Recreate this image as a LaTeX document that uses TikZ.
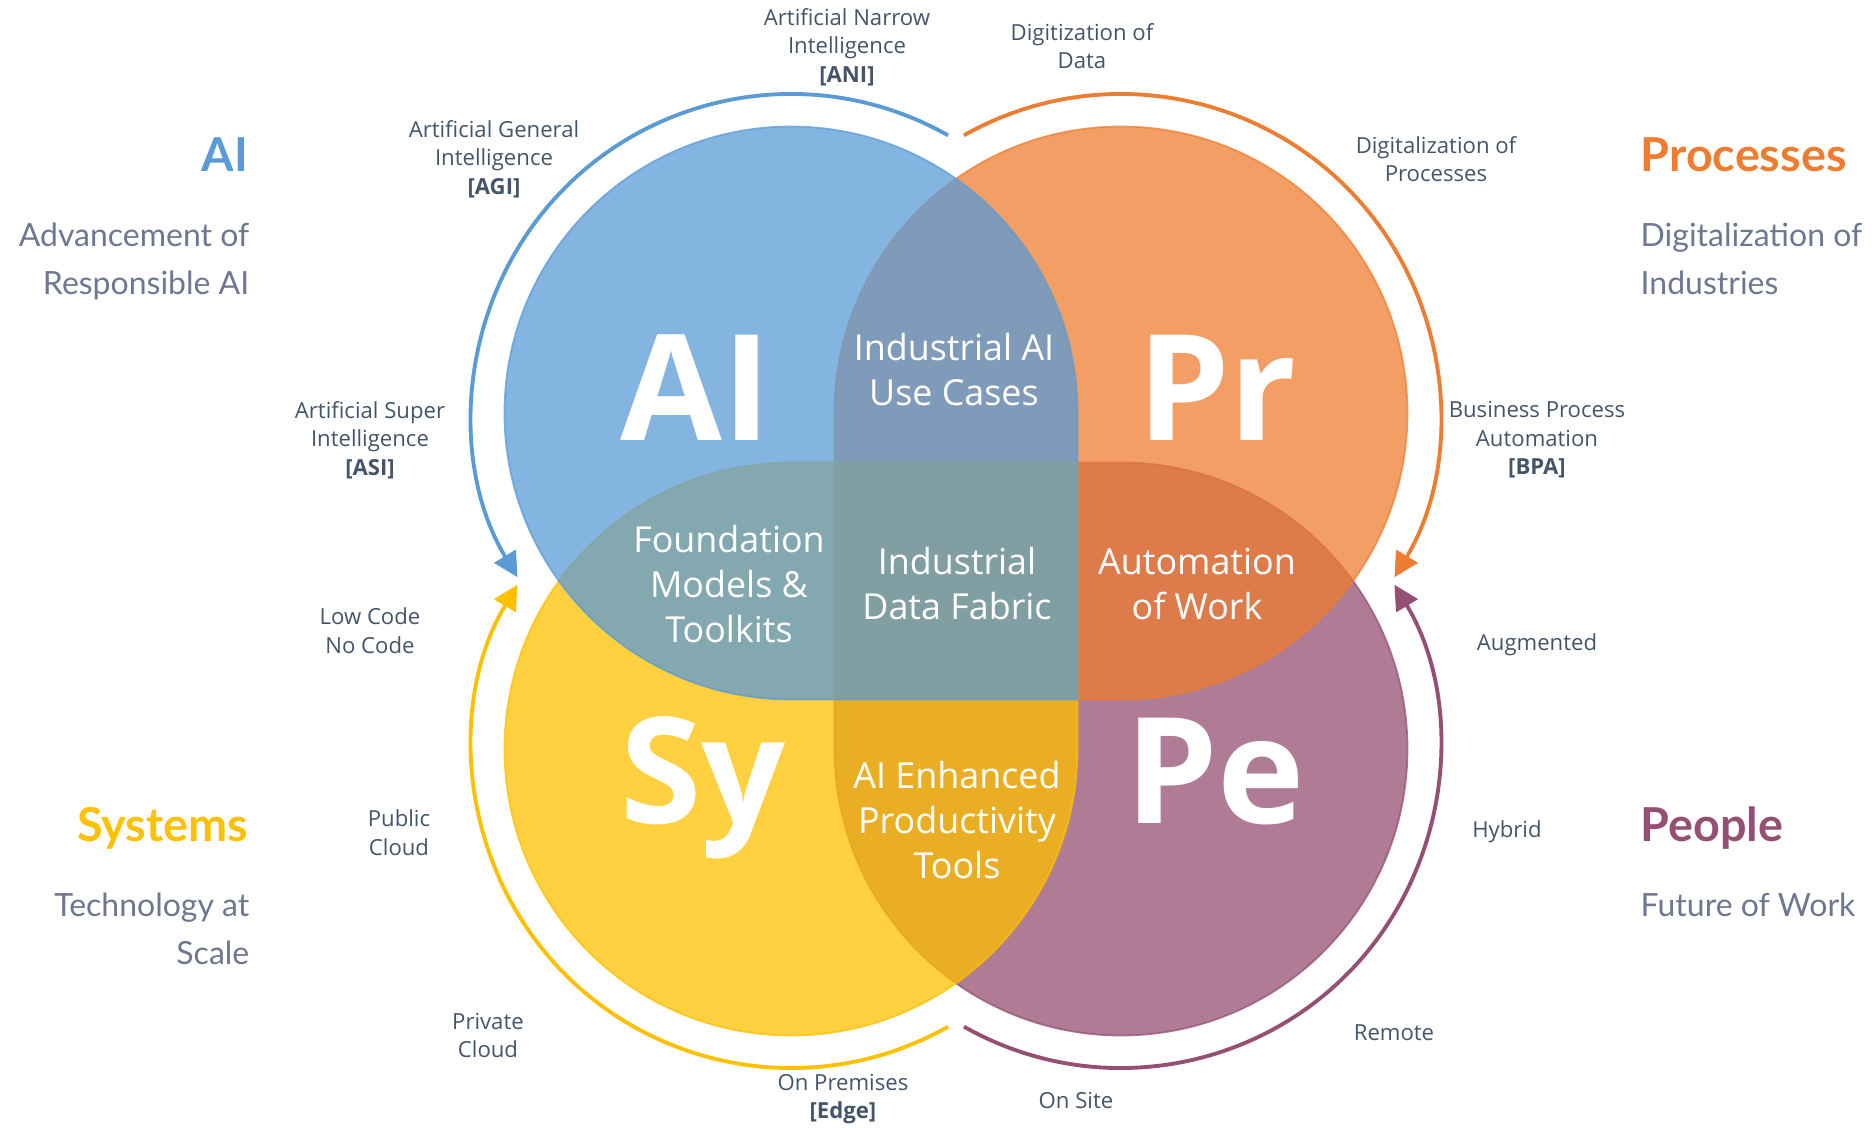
\documentclass[tikz,border=0pt]{standalone}
\usepackage{fontspec}
\setmainfont{Open Sans}
\newfontfamily\sidefont{Lato}
\usepackage{xcolor}
\usetikzlibrary{arrows.meta}

\definecolor{aiblue}{HTML}{5B9BD5}
\definecolor{prorange}{HTML}{ED7D31}
\definecolor{syyellow}{HTML}{FFC000}
\definecolor{pepurple}{HTML}{954F72}
\definecolor{labelgray}{HTML}{44546A}
\definecolor{sidegray}{HTML}{6E7691}

\begin{document}
\begin{tikzpicture}[
    venn/.style={line width=0.5pt, fill opacity=0.75, draw opacity=0.75},
    ring/.style={line width=1.1pt, -{Triangle[length=7pt,width=7pt]}},
    lbl/.style={labelgray, align=center, inner sep=0pt, font=\fontsize{6.3}{8.1}\selectfont},
    mid/.style={white, align=center, inner sep=0pt, font=\fontsize{10.2}{12.8}\selectfont},
    big/.style={white, inner sep=0pt, anchor=base, font=\fontsize{42}{42}\selectfont\bfseries},
    sidetitle/.style={inner sep=0pt, font=\sidefont\fontsize{13.3}{16}\selectfont\bfseries},
    sidetext/.style={sidegray, inner sep=0pt, font=\sidefont\fontsize{9.1}{13.7}\selectfont},
]
    \useasboundingbox (-9.56,-5.47) rectangle (9.19,5.81);

    % Centres of the four shapes
    \coordinate (ai) at (-1.65, 1.68);
    \coordinate (pr) at (1.65, 1.68);
    \coordinate (sy) at (-1.65, -1.68);
    \coordinate (pe) at (1.65, -1.68);

    % Draw the four shapes: a circle with its inner quarter squared off
    \filldraw[venn, fill=pepurple, draw=pepurple] (pe) ++(180:2.865) arc[start angle=180, end angle=450, radius=2.865] -- ++(-2.865,0) -- cycle;
    \filldraw[venn, fill=prorange, draw=prorange] (pr) ++(270:2.865) arc[start angle=-90, end angle=180, radius=2.865] -- ++(0,-2.865) -- cycle;
    \filldraw[venn, fill=syyellow, draw=syyellow] (sy) ++(90:2.865) arc[start angle=90, end angle=360, radius=2.865] -- ++(0,2.865) -- cycle;
    \filldraw[venn, fill=aiblue, draw=aiblue] (ai) ++(0:2.865) arc[start angle=0, end angle=270, radius=2.865] -- ++(2.865,0) -- cycle;

    % Draw the outer arrows
    \draw[ring, aiblue] (ai) ++(60.5:3.19) arc[start angle=60.5, end angle=211, radius=3.19];
    \draw[ring, prorange] (pr) ++(119.5:3.19) arc[start angle=119.5, end angle=-31, radius=3.19];
    \draw[ring, syyellow] (sy) ++(-60.5:3.19) arc[start angle=-60.5, end angle=-211, radius=3.19];
    \draw[ring, pepurple] (pe) ++(240.5:3.19) arc[start angle=240.5, end angle=391, radius=3.19];

    % Big letters
    \node[big] (aibig) at (-2.60, 1.41) {AI};
    \node[big] (prbig) at (2.61, 1.41) {Pr};
    \node[big] (sybig) at (-2.53, -2.42) {Sy};
    \node[big] (pebig) at (2.59, -2.42) {Pe};

    % Overlap texts
    \node[mid] (usecases) at (-0.02, 2.115) {Industrial AI\\Use Cases};
    \node[mid] (foundation) at (-2.27, -0.03) {Foundation\\Models \&\\Toolkits};
    \node[mid] (fabric) at (0.01, -0.03) {Industrial\\Data Fabric};
    \node[mid] (automation) at (2.41, -0.03) {Automation\\of Work};
    \node[mid] (tools) at (0.01, -2.39) {AI Enhanced\\Productivity\\Tools};

    % Labels round the rings
    \node[lbl] (ani) at (-1.09, 5.34) {Artificial Narrow\\Intelligence\\\textbf{[ANI]}};
    \node[lbl] (digdata) at (1.26, 5.35) {Digitization of\\Data};
    \node[lbl] (agi) at (-4.62, 4.22) {Artificial General\\Intelligence\\\textbf{[AGI]}};
    \node[lbl] (digproc) at (4.80, 4.22) {Digitalization of\\Processes};
    \node[lbl] (asi) at (-5.86, 1.41) {Artificial Super\\Intelligence\\\textbf{[ASI]}};
    \node[lbl] (bpa) at (5.81, 1.41) {Business Process\\Automation\\\textbf{[BPA]}};
    \node[lbl] (lowcode) at (-5.86, -0.495) {Low Code\\No Code};
    \node[lbl] (augmented) at (5.81, -0.64) {Augmented};
    \node[lbl] (public) at (-5.57, -2.515) {Public\\Cloud};
    \node[lbl] (hybrid) at (5.51, -2.51) {Hybrid};
    \node[lbl] (private) at (-4.68, -4.545) {Private\\Cloud};
    \node[lbl] (remote) at (4.38, -4.52) {Remote};
    \node[lbl] (onprem) at (-1.13, -5.18) {On Premises\\\textbf{[Edge]}};
    \node[lbl] (onsite) at (1.20, -5.19) {On Site};

    % Side texts
    \node[sidetitle, aiblue, anchor=base east] (aititle) at (-7.07, 4.093) {AI};
    \node[sidetext, align=right, anchor=north east] (aisub) at (-7.06, 3.59) {Advancement of\\Responsible AI};
    \node[sidetitle, syyellow, anchor=base east] (sytitle) at (-7.07, -2.60) {Systems};
    \node[sidetext, align=right, anchor=north east] (sysub) at (-7.06, -3.115) {Technology at\\Scale};
    \node[sidetitle, prorange, anchor=base west] (prtitle) at (6.84, 4.093) {Processes};
    \node[sidetext, align=left, anchor=north west] (prsub) at (6.84, 3.59) {Digitalization of\\Industries};
    \node[sidetitle, pepurple, anchor=base west] (petitle) at (6.84, -2.60) {People};
    \node[sidetext, align=left, anchor=north west] (pesub) at (6.84, -3.115) {Future of Work};
\end{tikzpicture}
\end{document}
